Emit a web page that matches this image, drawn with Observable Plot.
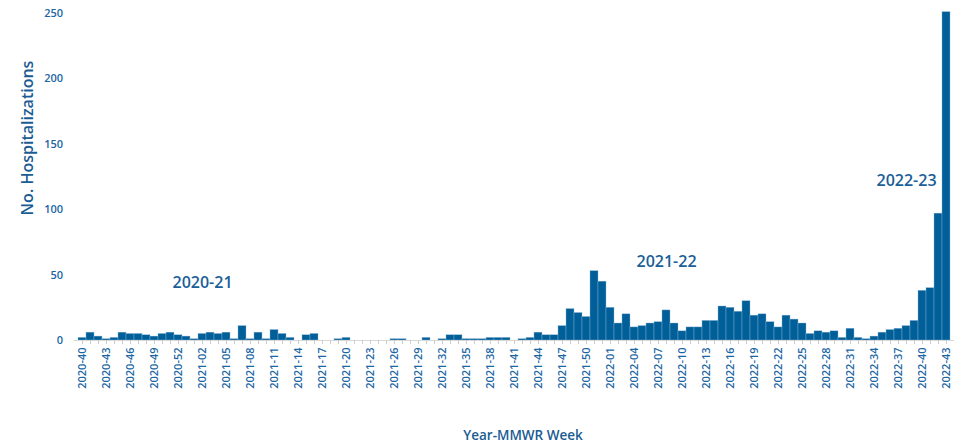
<!DOCTYPE html>
<html><head><meta charset="utf-8">
<script src="https://cdn.jsdelivr.net/npm/d3@7"></script>
<script src="https://cdn.jsdelivr.net/npm/@observablehq/plot@0.6"></script>
<style>body{margin:0;background:#fff;font-family:"Open Sans",sans-serif}</style>
</head><body><div id="chart"></div>
<script>
const weeks = [
"2020-40","2020-41","2020-42","2020-43","2020-44","2020-45","2020-46","2020-47","2020-48","2020-49","2020-50","2020-51","2020-52","2020-53",
"2021-01","2021-02","2021-03","2021-04","2021-05","2021-06","2021-07","2021-08","2021-09","2021-10","2021-11","2021-12","2021-13","2021-14","2021-15","2021-16","2021-17","2021-18","2021-19","2021-20","2021-21","2021-22","2021-23","2021-24","2021-25","2021-26","2021-27","2021-28","2021-29","2021-30","2021-31","2021-32","2021-33","2021-34","2021-35","2021-36","2021-37","2021-38","2021-39","2021-40","2021-41","2021-42","2021-43","2021-44","2021-45","2021-46","2021-47","2021-48","2021-49","2021-50","2021-51","2021-52",
"2022-01","2022-02","2022-03","2022-04","2022-05","2022-06","2022-07","2022-08","2022-09","2022-10","2022-11","2022-12","2022-13","2022-14","2022-15","2022-16","2022-17","2022-18","2022-19","2022-20","2022-21","2022-22","2022-23","2022-24","2022-25","2022-26","2022-27","2022-28","2022-29","2022-30","2022-31","2022-32","2022-33","2022-34","2022-35","2022-36","2022-37","2022-38","2022-39","2022-40","2022-41","2022-42","2022-43"];
const hospitalizations = [
2,6,3,1,2,6,5,5,4,3,5,6,4,3,
1,5,6,5,6,1,11,1,6,1,8,5,2,0,4,5,null,0,1,2,0,null,0,0,null,1,1,0,0,2,null,1,4,4,1,1,1,2,2,2,0,1,2,6,4,4,11,24,21,18,53,45,
25,13,20,10,11,13,14,23,13,7,10,10,15,15,26,25,22,30,19,20,14,10,19,16,13,5,7,6,7,2,9,2,1,3,6,8,9,11,15,38,40,97,251];
const tickLabels = ["2020-40","2020-43","2020-46","2020-49","2020-52","2021-02","2021-05","2021-08","2021-11","2021-14","2021-17","2021-20","2021-23","2021-26","2021-29","2021-32","2021-35","2021-38","2021-41","2021-44","2021-47","2021-50","2022-01","2022-04","2022-07","2022-10","2022-13","2022-16","2022-19","2022-22","2022-25","2022-28","2022-31","2022-34","2022-37","2022-40","2022-43"];
const yTicks = [0,50,100,150,200,250];
const seasonLabels = ["2020-21","2021-22","2022-23"];
const seasonWeeks = ["2021-02","2022-08","2022-38"];
const seasonY = [44,60,122];

const data = weeks.map((w,i)=>({week:w, value:hospitalizations[i]}));
const notes = seasonLabels.map((s,i)=>({label:s, week:seasonWeeks[i], y:seasonY[i]}));
const blue = "#005f99";
const textBlue = "#1a66a3";

const plot = Plot.plot({
  width: 962, height: 443,
  marginLeft: 73.5, marginRight: 8, marginTop: 13, marginBottom: 103,
  style: {fontFamily: "'Open Sans', sans-serif", background: "#fff"},
  x: {type: "band", domain: weeks, padding: 0},
  y: {domain: [0,250]},
  marks: [
    Plot.barY(data.filter(d=>d.value!=null), {x:"week", y:"value", fill: blue, stroke:"#8fb6d6", strokeWidth:0.4}),
    Plot.ruleY([0], {stroke:"#d9d9d9"}),
    Plot.axisY({ticks: yTicks, tickSize: 0, tickPadding: 11, fontSize: 11, fontWeight: 600, fill: textBlue, label: null}),
    Plot.axisX({ticks: weeks, tickFormat: d => tickLabels.includes(d) ? d : "", tickRotate: -90, tickSize: 4, tickPadding: 3, stroke:"#cccccc", fontSize: 11, fontWeight: 600, fill: textBlue, label: null}),
    Plot.text(notes, {x:"week", y:"y", text:"label", fontSize:16, fontWeight: 600, fill:"#1a5f98"})
  ]
});
const svg = d3.select(plot);
svg.selectAll("[aria-label='x-axis tick label'] text").attr("fill", textBlue);
svg.append("text").attr("transform","translate(33,138) rotate(-90)").attr("text-anchor","middle")
  .attr("font-size",16).attr("font-weight",600).attr("fill","#1a5c93").text("No. Hospitalizations");
svg.append("text").attr("x",523).attr("y",440).attr("text-anchor","middle")
  .attr("font-size",13.5).attr("font-weight",600).attr("fill","#1a5c93").text("Year-MMWR Week");
document.getElementById("chart").appendChild(plot);
</script>
</body></html>
